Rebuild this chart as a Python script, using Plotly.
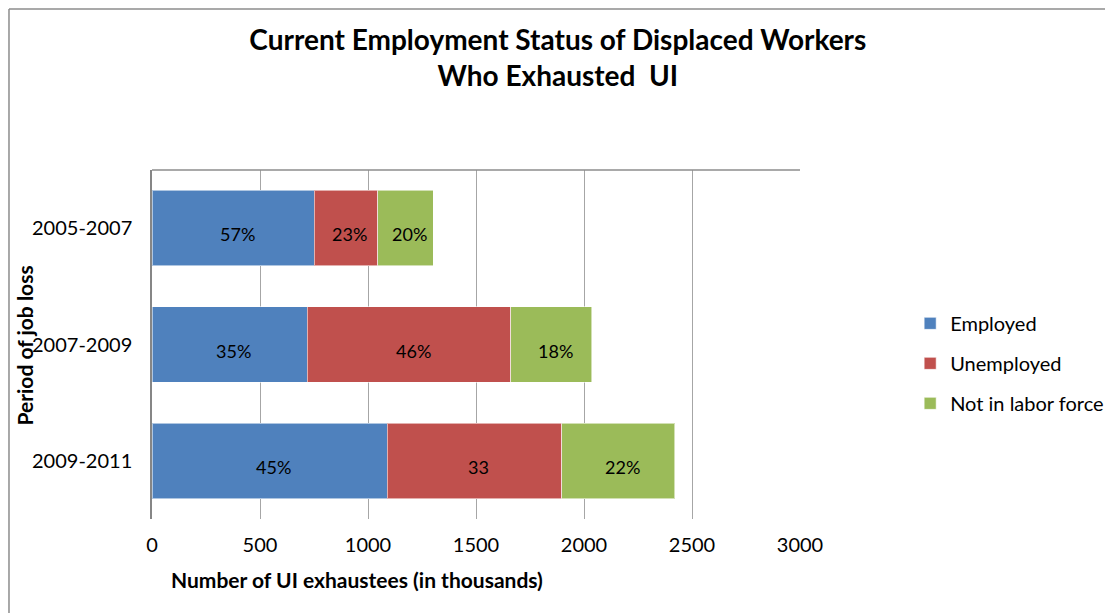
import plotly.graph_objects as go

periods = ["2005-2007", "2007-2009", "2009-2011"]
employed = [750, 718, 1088]
unemployed = [296, 944, 810]
not_in_lf = [255, 375, 523]
employed_labels = ["57%", "35%", "45%"]
unemployed_labels = ["23%", "46%", "33"]
not_in_lf_labels = ["20%", "18%", "22%"]
x_ticks = [0, 500, 1000, 1500, 2000, 2500, 3000]

FONT = "Lato, 'Open Sans', sans-serif"
series = [
    ("Employed", employed, employed_labels, "#4F81BD"),
    ("Unemployed", unemployed, unemployed_labels, "#C0504D"),
    ("Not in labor force", not_in_lf, not_in_lf_labels, "#9BBB59"),
]

fig = go.Figure()
annotations = []
base = [0] * len(periods)
for i, (name, vals, labels, color) in enumerate(series):
    fig.add_trace(go.Bar(
        y=periods, x=vals, name=name, orientation="h",
        marker=dict(color=color, line=dict(color="rgba(255,255,255,0.55)", width=1)),
        legendgroup=name, width=0.65, hoverinfo="x+name",
    ))
    for j, (v, lab) in enumerate(zip(vals, labels)):
        annotations.append(dict(
            x=base[j] + v / 2, y=periods[j], xref="x", yref="y", text=lab,
            showarrow=False, font=dict(family=FONT, size=18, color="black"),
            xshift=4, yshift=-6,
        ))
        base[j] += v

annotations.append(dict(
    text="<b>Number of UI exhaustees (in thousands)</b>", xref="paper", yref="paper",
    x=0.316, y=-0.172, showarrow=False, font=dict(family=FONT, size=21, color="black"),
    xanchor="center", yanchor="middle",
))
annotations.append(dict(
    text="<b>Period of job loss</b>", xref="paper", yref="paper",
    x=-0.197, y=0.498, showarrow=False, textangle=-90,
    font=dict(family=FONT, size=21, color="black"), xanchor="center", yanchor="middle",
))

shapes = [
    # outer chart border (top and left)
    dict(type="line", xref="paper", yref="paper", x0=-0.2207, x1=1.7, y0=1.461, y1=1.461,
         line=dict(color="#8C8C8C", width=1.5)),
    dict(type="line", xref="paper", yref="paper", x0=-0.2207, x1=-0.2207, y0=-0.35, y1=1.461,
         line=dict(color="#8C8C8C", width=1.5)),
    # plot area top border
    dict(type="line", xref="paper", yref="paper", x0=0, x1=1, y0=1, y1=1,
         line=dict(color="#8C8C8C", width=1.5)),
]

fig.update_layout(
    width=1113, height=613,
    barmode="stack", bargap=0.35,
    plot_bgcolor="white", paper_bgcolor="white",
    margin=dict(l=144, r=321, t=162, b=102),
    title=dict(
        text="<b>Current Employment Status of Displaced Workers</b><br><b>Who Exhausted&nbsp; UI</b>",
        x=0.494, xref="container", xanchor="center", y=0.932, yanchor="middle",
        font=dict(family=FONT, size=28, color="black"),
    ),
    font=dict(family=FONT, size=20, color="black"),
    legend=dict(
        x=1.170, y=0.446, xanchor="left", yanchor="middle",
        traceorder="grouped", tracegroupgap=11,
        font=dict(family=FONT, size=20, color="black"),
        bgcolor="rgba(0,0,0,0)", itemwidth=30,
    ),
    xaxis=dict(
        range=[0, 3000], tickvals=x_ticks, ticktext=[str(t) for t in x_ticks],
        showgrid=True, gridcolor="#A6A6A6", gridwidth=1.2,
        zeroline=False, showline=False, ticks="", ticklabelstandoff=12,
        tickfont=dict(family=FONT, size=20, color="black"), fixedrange=True,
    ),
    yaxis=dict(
        autorange="reversed", showgrid=False, zeroline=False,
        showline=True, linecolor="#868686", linewidth=1.5, ticks="",
        ticklabelstandoff=14, tickfont=dict(family=FONT, size=20, color="black"),
    ),
    annotations=annotations, shapes=shapes, showlegend=True,
)

fig.write_html("out.html")
